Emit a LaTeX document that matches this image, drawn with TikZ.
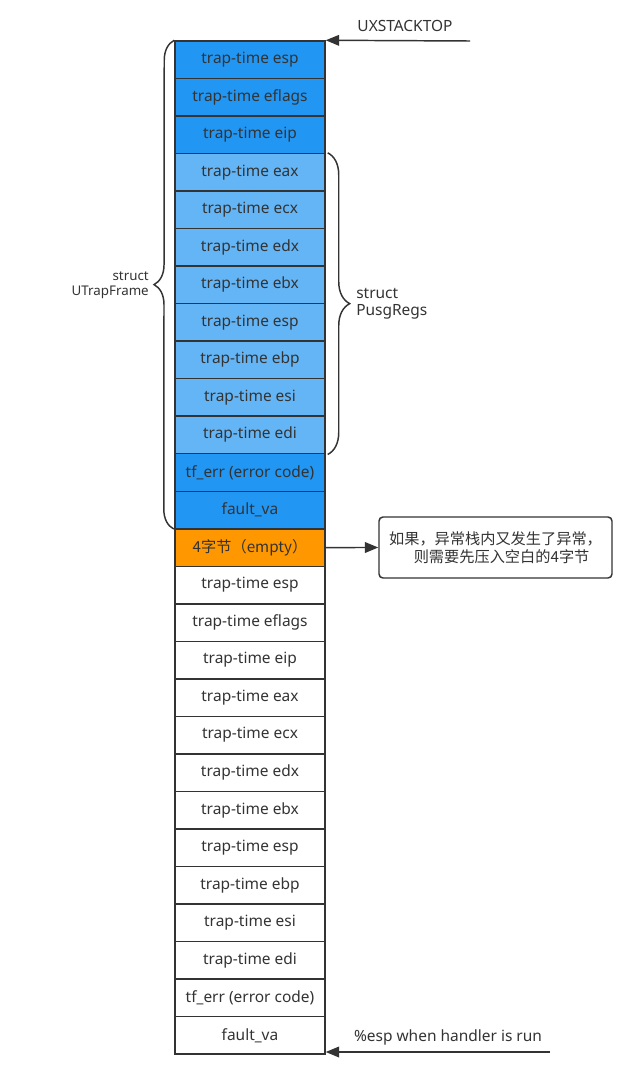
\documentclass[tikz,border=0pt]{standalone}
\usepackage{fontspec}
\setmainfont{Noto Sans}
\newfontfamily\cjk{Noto Sans CJK SC}
\usetikzlibrary{arrows.meta,decorations.pathreplacing,calc}
\definecolor{dblue}{HTML}{2196F3}
\definecolor{lblue}{HTML}{64B5F6}
\definecolor{orng}{HTML}{FF9800}
\definecolor{txt}{HTML}{333333}
\definecolor{edge}{HTML}{333333}
\begin{document}
\begin{tikzpicture}[x=0.75pt,y=-0.75pt,
  cell/.style={draw=edge,line width=1.1pt,minimum width=112.5pt,minimum height=28.14pt,
    inner sep=0pt,text=txt,font=\fontsize{11.6}{13}\selectfont,anchor=center},
  conn/.style={draw=edge,line width=1.1pt,-{Triangle[length=10pt,width=8pt]}},
  lab/.style={text=txt,inner sep=0pt,font=\fontsize{11.6}{12.8}\selectfont},
  brc/.style={draw=edge,line width=1.1pt,decorate},
  note/.style={draw=edge,line width=1.1pt,rounded corners=3pt,fill=white,
    minimum width=174.75pt,minimum height=45.75pt,inner sep=0pt,text=txt,align=center,
    font=\cjk\fontsize{11.4}{13.5}\selectfont}
]
\useasboundingbox (0,0) rectangle (635,1078);
\foreach \i/\lab/\col in {
  1/trap-time esp/dblue, 2/trap-time eflags/dblue, 3/trap-time eip/dblue,
  4/trap-time eax/lblue, 5/trap-time ecx/lblue, 6/trap-time edx/lblue,
  7/trap-time ebx/lblue, 8/trap-time esp/lblue, 9/trap-time ebp/lblue,
  10/trap-time esi/lblue, 11/trap-time edi/lblue,
  12/tf\_err (error code)/dblue, 13/fault\_va/dblue,
  15/trap-time esp/white, 16/trap-time eflags/white, 17/trap-time eip/white,
  18/trap-time eax/white, 19/trap-time ecx/white, 20/trap-time edx/white,
  21/trap-time ebx/white, 22/trap-time esp/white, 23/trap-time ebp/white,
  24/trap-time esi/white, 25/trap-time edi/white,
  26/tf\_err (error code)/white, 27/fault\_va/white}
{
  \node[cell,fill=\col] (r\i) at (250,{41+37.52*(\i-0.5)}) {\lab};
}
\node[cell,fill=orng,font=\cjk\fontsize{11.4}{13}\selectfont] (r14) at (250,{41+37.52*13.5}) {4字节（empty）};

% braces
\draw[brc,decoration={brace,amplitude=15pt}] ($(r13.south west)+(-0.5,-0.5)$) -- (r1.north west);
\draw[brc,decoration={brace,amplitude=16.5pt}] ($(r4.north east)+(2,0)$) -- ($(r11.south east)+(2,0)$);
\node[lab,anchor=east,align=right,font=\fontsize{10}{11.5}\selectfont] (ut) at (149,285.5) {struct\\UTrapFrame};
\node[lab,anchor=west,align=left] (pr) at (356,304) {struct\\PusgRegs};

% top arrow
\coordinate (uxs) at (470,41);
\node[lab,anchor=center] (uxt) at (405,26) {UXSTACKTOP};
\draw[conn] (uxs) -- (r1.north east);

% note
\node[note] (nt) at (495.5,547.5) {如果，异常栈内又发生了异常，\\\hspace*{0.8em}则需要先压入空白的4字节};
\draw[conn] (r14.east) -- (nt.west);

% bottom arrow
\coordinate (hs) at (550,1052);
\node[lab,anchor=center] (hst) at (448,1037) {\%esp when handler is run};
\draw[conn] (hs) -- (r27.south east |- hs);
\end{tikzpicture}
\end{document}
